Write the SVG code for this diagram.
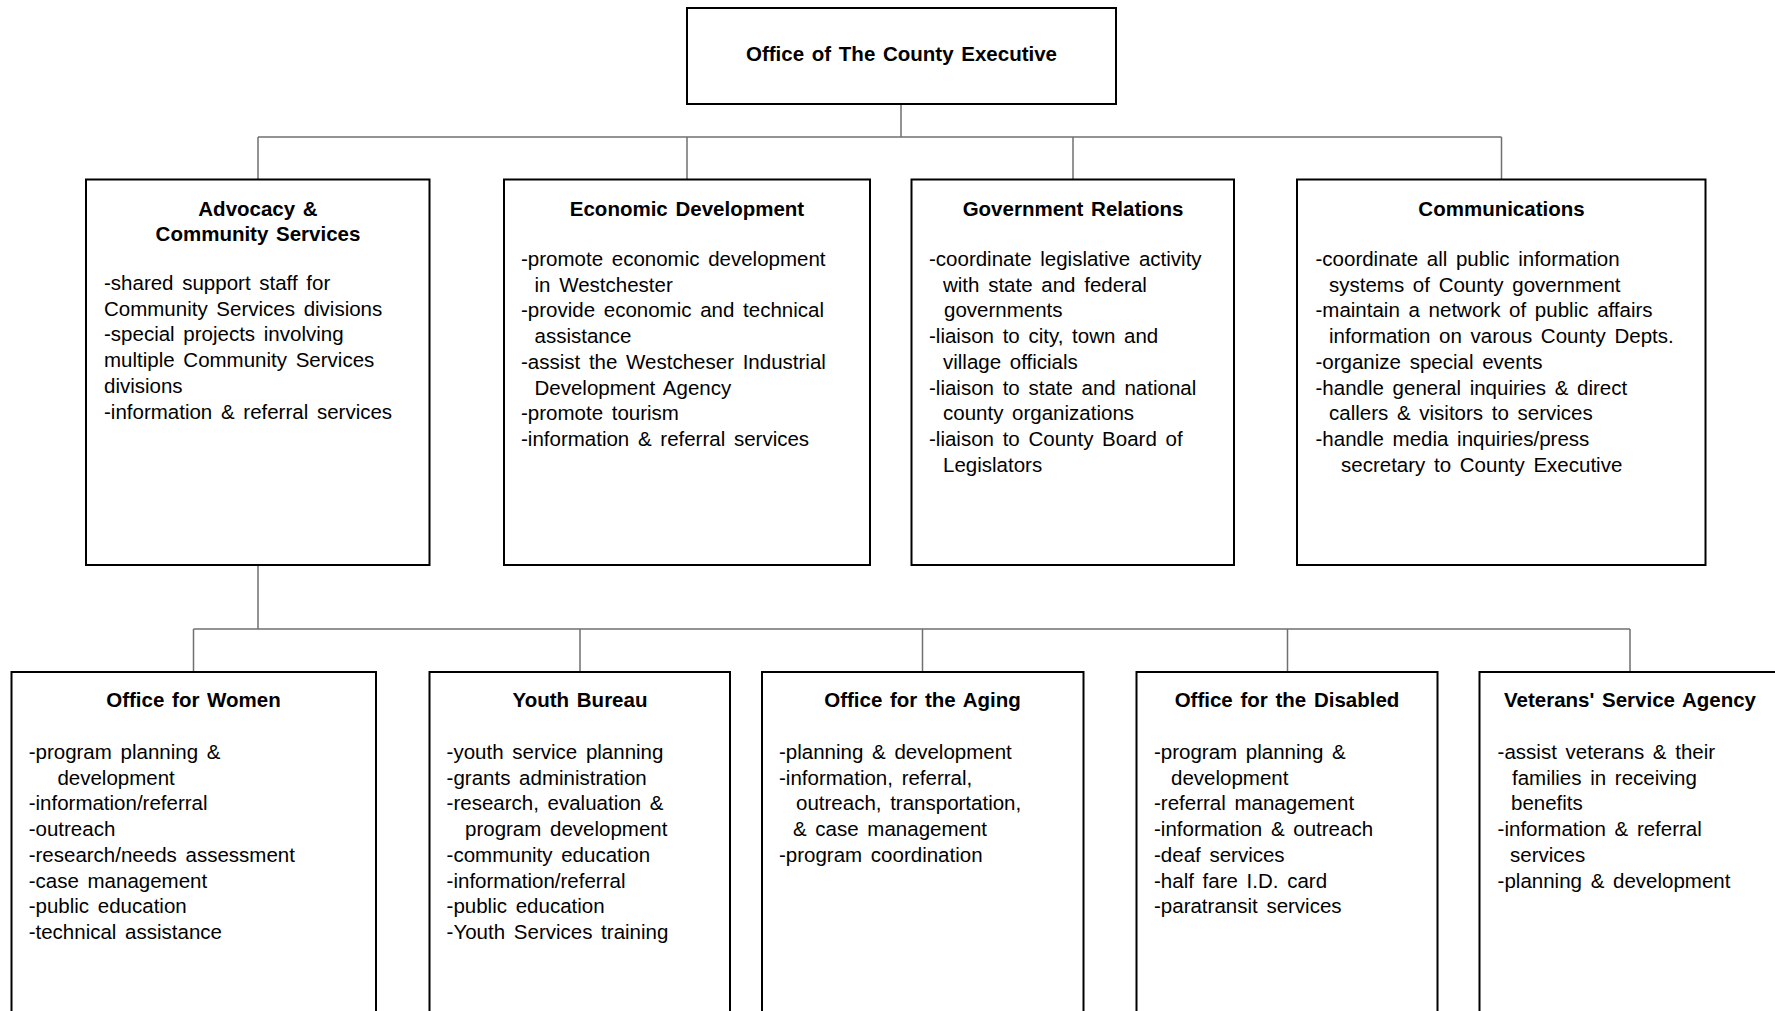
<svg xmlns="http://www.w3.org/2000/svg" width="1775" height="1011" viewBox="0 0 1775 1011">
<style>
.box{fill:#fff;stroke:#000;stroke-width:2}
.conn{fill:none;stroke:#707070;stroke-width:1.5}
text{font-family:"Liberation Sans",Arial,sans-serif;font-size:20.5px;fill:#000}
.t{font-weight:bold;text-anchor:middle;word-spacing:2px}
.b{word-spacing:3px}
</style>
<rect width="1775" height="1011" fill="#fff"/>
<g id="connectors">
<path class="conn" d="M901,104V137M258,137H1501.5M258,137V179.5M687,137V179.5M1073,137V179.5M1501.5,137V179.5"/>
<path class="conn" d="M258,565V629M193.5,629H1630M193.5,629V672M580,629V672M922.5,629V672M1287.5,629V672M1630,629V672"/>
</g>
<g id="county-executive">
<rect class="box" x="687" y="8" width="429" height="96"/>
<text class="t" x="901.5" y="61">Office of The County Executive</text>
</g>
<g id="advocacy">
<rect class="box" x="86" y="179.5" width="343.5" height="385.5"/>
<text class="t" x="258" y="216">Advocacy &amp;</text>
<text class="t" x="258" y="241">Community Services</text>
<text class="b"><tspan x="104" y="290">-shared support staff for</tspan><tspan x="104" y="315.7">Community Services divisions</tspan><tspan x="104" y="341.4">-special projects involving</tspan><tspan x="104" y="367.1">multiple Community Services</tspan><tspan x="104" y="392.8">divisions</tspan><tspan x="104" y="418.5">-information &amp; referral services</tspan></text>
</g>
<g id="economic-development">
<rect class="box" x="504" y="179.5" width="366" height="385.5"/>
<text class="t" x="687" y="216">Economic Development</text>
<text class="b"><tspan x="521" y="266">-promote economic development</tspan><tspan x="534.5" y="291.7">in Westchester</tspan><tspan x="521" y="317.4">-provide economic and technical</tspan><tspan x="534.5" y="343.1">assistance</tspan><tspan x="521" y="368.8">-assist the Westcheser Industrial</tspan><tspan x="534.5" y="394.5">Development Agency</tspan><tspan x="521" y="420.2">-promote tourism</tspan><tspan x="521" y="445.9">-information &amp; referral services</tspan></text>
</g>
<g id="government-relations">
<rect class="box" x="911.5" y="179.5" width="322.5" height="385.5"/>
<text class="t" x="1073" y="216">Government Relations</text>
<text class="b"><tspan x="929" y="266">-coordinate legislative activity</tspan><tspan x="943" y="291.7">with state and federal</tspan><tspan x="944" y="317.4">governments</tspan><tspan x="929" y="343.1">-liaison to city, town and</tspan><tspan x="943" y="368.8">village officials</tspan><tspan x="929" y="394.5">-liaison to state and national</tspan><tspan x="943" y="420.2">county organizations</tspan><tspan x="929" y="445.9">-liaison to County Board of</tspan><tspan x="943" y="471.6">Legislators</tspan></text>
</g>
<g id="communications">
<rect class="box" x="1297" y="179.5" width="408.5" height="385.5"/>
<text class="t" x="1501.5" y="216">Communications</text>
<text class="b"><tspan x="1315.5" y="266">-coordinate all public information</tspan><tspan x="1329" y="291.7">systems of County government</tspan><tspan x="1315.5" y="317.4">-maintain a network of public affairs</tspan><tspan x="1329" y="343.1">information on varous County Depts.</tspan><tspan x="1315.5" y="368.8">-organize special events</tspan><tspan x="1315.5" y="394.5">-handle general inquiries &amp; direct</tspan><tspan x="1329" y="420.2">callers &amp; visitors to services</tspan><tspan x="1315.5" y="445.9">-handle media inquiries/press</tspan><tspan x="1341" y="471.6">secretary to County Executive</tspan></text>
</g>
<g id="office-for-women">
<rect class="box" x="11.5" y="672" width="364.5" height="360"/>
<text class="t" x="193.5" y="707">Office for Women</text>
<text class="b"><tspan x="28.7" y="759">-program planning &amp;</tspan><tspan x="57.4" y="784.7">development</tspan><tspan x="28.7" y="810.4">-information/referral</tspan><tspan x="28.7" y="836.1">-outreach</tspan><tspan x="28.7" y="861.8">-research/needs assessment</tspan><tspan x="28.7" y="887.5">-case management</tspan><tspan x="28.7" y="913.2">-public education</tspan><tspan x="28.7" y="938.9">-technical assistance</tspan></text>
</g>
<g id="youth-bureau">
<rect class="box" x="429.5" y="672" width="300.5" height="360"/>
<text class="t" x="580" y="707">Youth Bureau</text>
<text class="b"><tspan x="446.6" y="759">-youth service planning</tspan><tspan x="446.6" y="784.7">-grants administration</tspan><tspan x="446.6" y="810.4">-research, evaluation &amp;</tspan><tspan x="465" y="836.1">program development</tspan><tspan x="446.6" y="861.8">-community education</tspan><tspan x="446.6" y="887.5">-information/referral</tspan><tspan x="446.6" y="913.2">-public education</tspan><tspan x="446.6" y="938.9">-Youth Services training</tspan></text>
</g>
<g id="office-for-the-aging">
<rect class="box" x="762" y="672" width="321.5" height="360"/>
<text class="t" x="922.5" y="707">Office for the Aging</text>
<text class="b"><tspan x="779" y="759">-planning &amp; development</tspan><tspan x="779" y="784.7">-information, referral,</tspan><tspan x="796" y="810.4">outreach, transportation,</tspan><tspan x="793" y="836.1">&amp; case management</tspan><tspan x="779" y="861.8">-program coordination</tspan></text>
</g>
<g id="office-for-the-disabled">
<rect class="box" x="1136.5" y="672" width="301" height="360"/>
<text class="t" x="1287" y="707">Office for the Disabled</text>
<text class="b"><tspan x="1154" y="759">-program planning &amp;</tspan><tspan x="1171" y="784.7">development</tspan><tspan x="1154" y="810.4">-referral management</tspan><tspan x="1154" y="836.1">-information &amp; outreach</tspan><tspan x="1154" y="861.8">-deaf services</tspan><tspan x="1154" y="887.5">-half fare I.D. card</tspan><tspan x="1154" y="913.2">-paratransit services</tspan></text>
</g>
<g id="veterans-service-agency">
<rect class="box" x="1479.5" y="672" width="320" height="360"/>
<text class="t" x="1630" y="707">Veterans' Service Agency</text>
<text class="b"><tspan x="1497.6" y="759">-assist veterans &amp; their</tspan><tspan x="1512" y="784.7">families in receiving</tspan><tspan x="1511" y="810.4">benefits</tspan><tspan x="1497.6" y="836.1">-information &amp; referral</tspan><tspan x="1510" y="861.8">services</tspan><tspan x="1497.6" y="887.5">-planning &amp; development</tspan></text>
</g>
</svg>
